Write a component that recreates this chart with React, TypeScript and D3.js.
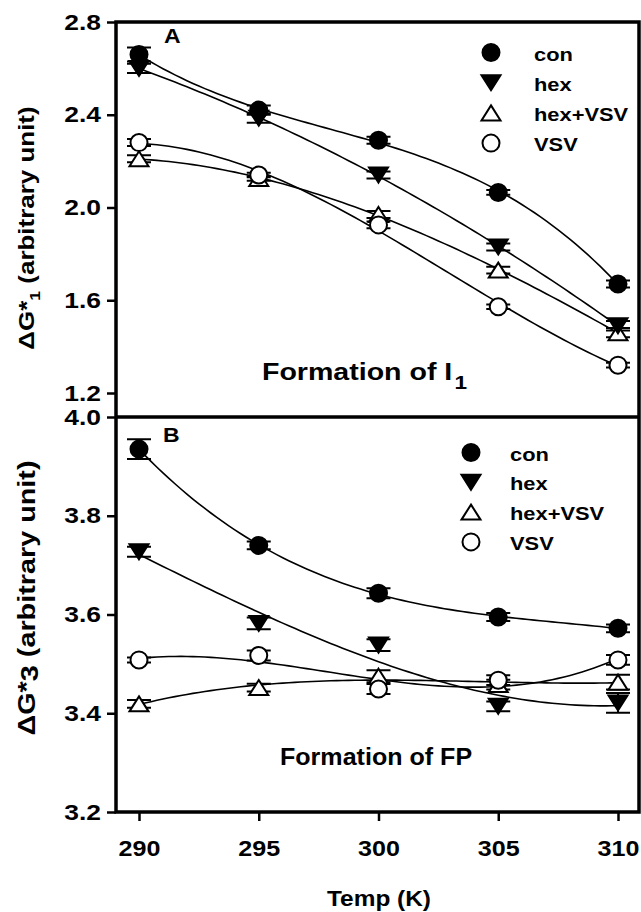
import * as d3 from 'd3'
import React, { useRef, useEffect } from 'react'

// temperatures (K) on the shared x axis
const temps = [290, 295, 300, 305, 310]
const seriesNames = ['con', 'hex', 'hex+VSV', 'VSV']

// panel A - formation of I1
const conA = [2.66, 2.42, 2.29, 2.065, 1.67]
const hexA = [2.60, 2.385, 2.14, 1.83, 1.49]
const hexVsvA = [2.21, 2.125, 1.97, 1.73, 1.46]
const vsvA = [2.28, 2.14, 1.925, 1.572, 1.32]
const conErrA = [0.03, 0.02, 0.015, 0.01, 0.015]
const hexErrA = [0.02, 0.02, 0.015, 0.015, 0.02]
const hexVsvErrA = [0.015, 0.01, 0.015, 0.015, 0.02]
const vsvErrA = [0.015, 0.01, 0.015, 0.01, 0.01]
const yTicksA = [1.2, 1.6, 2.0, 2.4, 2.8]

// panel B - formation of FP
const conB = [3.935, 3.74, 3.643, 3.595, 3.572]
const hexB = [3.727, 3.582, 3.538, 3.414, 3.421]
const hexVsvB = [3.419, 3.452, 3.475, 3.458, 3.463]
const vsvB = [3.508, 3.517, 3.449, 3.467, 3.508]
const conErrB = [0.02, 0.008, 0.01, 0.008, 0.008]
const hexErrB = [0.01, 0.012, 0.012, 0.01, 0.02]
const hexVsvErrB = [0.008, 0.008, 0.012, 0.01, 0.015]
const vsvErrB = [0.005, 0.01, 0.01, 0.01, 0.01]
const yTicksB = [3.2, 3.4, 3.6, 3.8, 4.0]

const FONT = '"Liberation Sans", Arial, sans-serif'

// least squares polynomial (in t = (T-300)/5) used for the fitted curves
function polyFit(xs: number[], ys: number[], deg: number) {
    const n = deg + 1
    const A: number[][] = Array.from({ length: n }, () => Array(n + 1).fill(0))
    xs.forEach((xv, k) => {
        const t = (xv - 300) / 5
        for (let i = 0; i < n; i++) {
            for (let j = 0; j < n; j++) A[i][j] += Math.pow(t, i + j)
            A[i][n] += ys[k] * Math.pow(t, i)
        }
    })
    for (let i = 0; i < n; i++) {
        let p = i
        for (let r = i + 1; r < n; r++) if (Math.abs(A[r][i]) > Math.abs(A[p][i])) p = r
        ;[A[i], A[p]] = [A[p], A[i]]
        for (let r = 0; r < n; r++) {
            if (r === i) continue
            const f = A[r][i] / A[i][i]
            for (let c = i; c <= n; c++) A[r][c] -= f * A[i][c]
        }
    }
    const coef = A.map((row, i) => row[n] / row[i])
    return (xv: number) => {
        const t = (xv - 300) / 5
        return coef.reduce((s, c, i) => s + c * Math.pow(t, i), 0)
    }
}

const markerPath = (kind: string) => {
    if (kind === 'down') return 'M0,7.5L9.5,-7.5L-9.5,-7.5Z'
    if (kind === 'up') return 'M0,-7.5L9.5,7.5L-9.5,7.5Z'
    return d3.symbol().type(d3.symbolCircle).size(Math.PI * 8.5 * 8.5)() as string
}
const markerKind = ['circle', 'down', 'up', 'circle']
const markerFill = ['#000', '#000', '#fff', '#fff']

export default function App() {
    const svgRef = useRef<SVGSVGElement>(null)

    useEffect(() => {
        const svg = d3.select(svgRef.current)
        svg.selectAll('*').remove()

        const left = 116, right = 639, top = 22, mid = 417, bottom = 812
        const x = d3.scaleLinear().domain([290, 310]).range([139, 618])

        const panels = [
            {
                y: d3.scaleLinear().domain([1.2, 2.8]).range([393, 22]),
                ticks: yTicksA,
                values: [conA, hexA, hexVsvA, vsvA],
                errs: [conErrA, hexErrA, hexVsvErrA, vsvErrA],
                legend: { x: 491, tx: 534, y: 52.5, dy: 30.2 },
                letter: { x: 164, y: 43, t: 'A' },
            },
            {
                y: d3.scaleLinear().domain([3.2, 4.0]).range([812, 417]),
                ticks: yTicksB,
                values: [conB, hexB, hexVsvB, vsvB],
                errs: [conErrB, hexErrB, hexVsvErrB, vsvErrB],
                legend: { x: 471, tx: 510, y: 452.5, dy: 29.8 },
                letter: { x: 163, y: 442, t: 'B' },
            },
        ]

        svg.append('rect').attr('width', 641).attr('height', 912).attr('fill', '#fff')

        const line = d3.line<[number, number]>()
        const samples = d3.range(290, 310.001, 0.25)

        panels.forEach(p => {
            const g = svg.append('g')
            // y axis ticks + labels
            const ax = g.append('g').attr('transform', `translate(${left},0)`)
                .call(d3.axisLeft(p.y).tickValues(p.ticks).tickSize(9).tickFormat(d3.format('.1f')))
            ax.select('.domain').remove()
            ax.selectAll('line').attr('stroke', '#000').attr('stroke-width', 2.5)
            ax.selectAll('text').attr('x', 0).attr('transform', 'translate(-15,0) scale(1.2,1)')
                .style('font', `bold 22px ${FONT}`).attr('fill', '#000')

            // fitted curves
            p.values.forEach(vals => {
                const f = polyFit(temps, vals, 3)
                g.append('path')
                    .attr('d', line(samples.map(t => [x(t), p.y(f(t))])))
                    .attr('fill', 'none').attr('stroke', '#000').attr('stroke-width', 1.6)
            })

            // error bars
            p.values.forEach((vals, s) => {
                vals.forEach((v, i) => {
                    const e = p.errs[s][i]
                    const cx = x(temps[i])
                    const y1 = p.y(v + e), y2 = p.y(v - e)
                    g.append('path')
                        .attr('d', `M${cx},${y1}V${y2}M${cx - 12},${y1}H${cx + 12}M${cx - 12},${y2}H${cx + 12}`)
                        .attr('stroke', '#000').attr('stroke-width', 2).attr('fill', 'none')
                })
            })

            // markers
            ;[2, 3, 1, 0].forEach(s => {
                g.selectAll(null).data(p.values[s]).join('path')
                    .attr('d', markerPath(markerKind[s]))
                    .attr('transform', (v, i) => `translate(${x(temps[i])},${p.y(v)})`)
                    .attr('fill', markerFill[s]).attr('stroke', '#000').attr('stroke-width', 2)
            })

            // legend
            seriesNames.forEach((name, s) => {
                const ly = p.legend.y + s * p.legend.dy
                g.append('path').attr('d', markerPath(markerKind[s]))
                    .attr('transform', `translate(${p.legend.x},${ly})`)
                    .attr('fill', markerFill[s]).attr('stroke', '#000').attr('stroke-width', 2)
                g.append('text').attr('transform', `translate(${p.legend.tx},${ly + 8}) scale(1.15,1)`)
                    .style('font', `bold 19px ${FONT}`).text(name)
            })

            g.append('text').attr('transform', `translate(${p.letter.x},${p.letter.y}) scale(1.15,1)`)
                .style('font', `bold 20px ${FONT}`).text(p.letter.t)
        })

        // x axis (bottom panel only)
        const xa = svg.append('g').attr('transform', `translate(0,${bottom})`)
            .call(d3.axisBottom(x).tickValues(temps).tickSize(9).tickPadding(19).tickFormat(d3.format('d')))
        xa.select('.domain').remove()
        xa.selectAll('line').attr('stroke', '#000').attr('stroke-width', 2.5)
        xa.selectAll('text').attr('transform', 'scale(1.14,1)').style('font', `bold 22px ${FONT}`).attr('fill', '#000')

        // frames
        svg.append('rect').attr('x', left).attr('y', top).attr('width', right - left).attr('height', bottom - top)
            .attr('fill', 'none').attr('stroke', '#000').attr('stroke-width', 3.5)
        svg.append('line').attr('x1', left).attr('x2', right).attr('y1', mid).attr('y2', mid)
            .attr('stroke', '#000').attr('stroke-width', 3.5)

        // panel titles
        const fa = svg.append('text').attr('transform', 'translate(262,380) scale(1.19,1)')
            .style('font', `bold 24px ${FONT}`)
        fa.append('tspan').text('Formation of I')
        fa.append('tspan').attr('dy', 9).attr('dx', 2).style('font-size', '19px').text('1')
        svg.append('text').attr('transform', 'translate(280,765) scale(1.09,1)')
            .style('font', `bold 23px ${FONT}`).text('Formation of FP')

        // axis titles
        svg.append('text').attr('transform', 'translate(379,906) scale(1.11,1)').attr('text-anchor', 'middle')
            .style('font', `bold 22px ${FONT}`).text('Temp (K)')

        const ta = svg.append('text').attr('transform', 'translate(34,228) rotate(-90) scale(1.18,1)')
            .attr('text-anchor', 'middle').style('font', `bold 22px ${FONT}`)
        ta.append('tspan').text('ΔG*')
        ta.append('tspan').attr('dy', 6).style('font-size', '15px').text('1')
        ta.append('tspan').attr('dy', -6).text(' (arbitrary unit)')

        const tb = svg.append('text').attr('transform', 'translate(35,598) rotate(-90) scale(1.2,1)')
            .attr('text-anchor', 'middle').style('font', `bold 24px ${FONT}`)
        tb.append('tspan').text('ΔG*')
        tb.append('tspan').attr('dy', 3).text('3')
        tb.append('tspan').attr('dy', -3).text(' (arbitrary unit)')
    }, [])

    return (
        <div style={{ position: 'absolute', left: 0, top: 0 }}>
            <svg ref={svgRef} width={641} height={912} style={{ display: 'block' }}></svg>
        </div>
    )
}
